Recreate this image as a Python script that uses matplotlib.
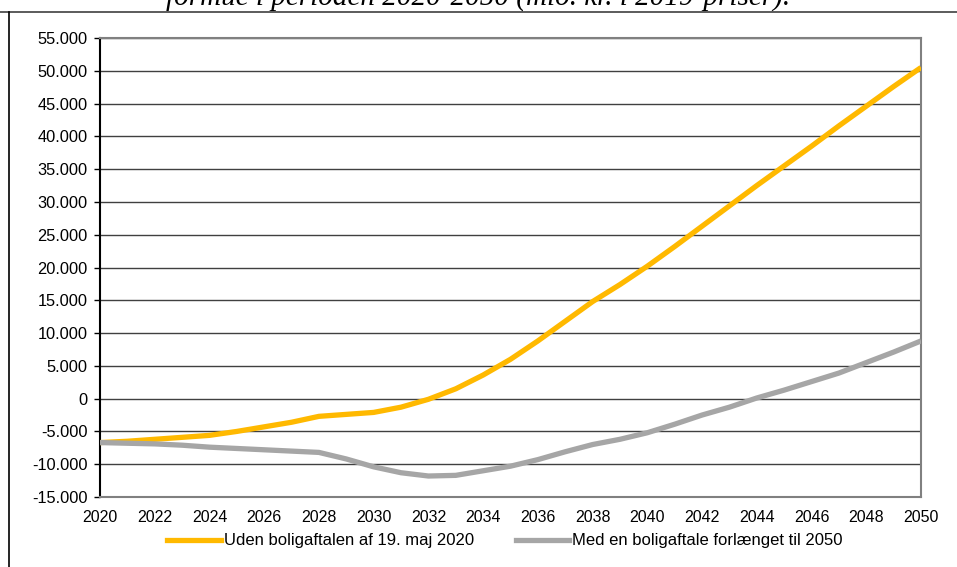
import matplotlib.pyplot as plt
from matplotlib.lines import Line2D
from matplotlib.ticker import FuncFormatter

# data (mio. kr.)
years = list(range(2020, 2051))
uden_aftale = [-6700, -6500, -6200, -5900, -5600, -5000, -4300, -3600, -2700, -2400,
               -2100, -1300, -100, 1500, 3600, 6000, 8800, 11800, 14800, 17400,
               20200, 23200, 26300, 29400, 32500, 35500, 38500, 41600, 44600, 47600,
               50500]
med_aftale = [-6700, -6800, -6900, -7100, -7400, -7600, -7800, -8000, -8200, -9200,
              -10400, -11300, -11800, -11700, -11000, -10300, -9300, -8100, -7000, -6200,
              -5200, -3900, -2500, -1300, 100, 1300, 2600, 3900, 5500, 7100,
              8800]
labels = ['Uden boligaftalen af 19. maj 2020', 'Med en boligaftale forlænget til 2050']
title = 'formue i perioden 2020-2050 (mio. kr. i 2019-priser).'

plt.rcParams['font.family'] = ['Liberation Sans', 'DejaVu Sans']

W, H = 957, 567
fig = plt.figure(figsize=(W / 100, H / 100), dpi=100)
ax = fig.add_axes([100 / W, 1 - 497 / H, 821 / W, 459 / H])

ax.plot(years, uden_aftale, color='#FFB900', lw=3.8, solid_capstyle='butt', zorder=3)
ax.plot(years, med_aftale, color='#A6A6A6', lw=3.8, solid_capstyle='butt', zorder=3)

ax.set_xlim(2020, 2050)
ax.set_ylim(-15000, 55000)
ax.set_xticks(range(2020, 2051, 2))
ax.set_yticks(range(-15000, 55001, 5000))
ax.yaxis.set_major_formatter(FuncFormatter(lambda v, p: f'{int(v):,}'.replace(',', '.')))
ax.grid(axis='y', color='#404040', lw=1)
ax.set_axisbelow(True)
ax.tick_params(axis='y', length=4, width=1, color='black', labelsize=11.8, pad=5)
ax.tick_params(axis='x', length=0, labelsize=11.5, pad=9)
for s in ['top', 'right', 'bottom']:
    ax.spines[s].set_color('#808080')
    ax.spines[s].set_linewidth(1.5)
ax.spines['left'].set_color('black')
ax.spines['left'].set_linewidth(1.5)

handles = [Line2D([], [], color='#FFB900', lw=3.8), Line2D([], [], color='#A6A6A6', lw=3.8)]
fig.legend(handles, labels, loc='center', bbox_to_anchor=(505 / W, 1 - 541 / H), ncol=2,
           frameon=False, fontsize=12, handlelength=3.2, handletextpad=0.2,
           columnspacing=2.5)

# overskrift (delvist beskåret i originalen) og ramme
fig.text(0.5, 1 - 6 / H, title, ha='center', va='baseline', fontsize=21,
         style='italic', family='Liberation Serif')
fig.add_artist(Line2D([0, 1], [1 - 12 / H, 1 - 12 / H], color='#404040', lw=1.2))
fig.add_artist(Line2D([9 / W, 9 / W], [0, 1 - 12 / H], color='black', lw=1.2))

fig.savefig('out.png', dpi=100)
